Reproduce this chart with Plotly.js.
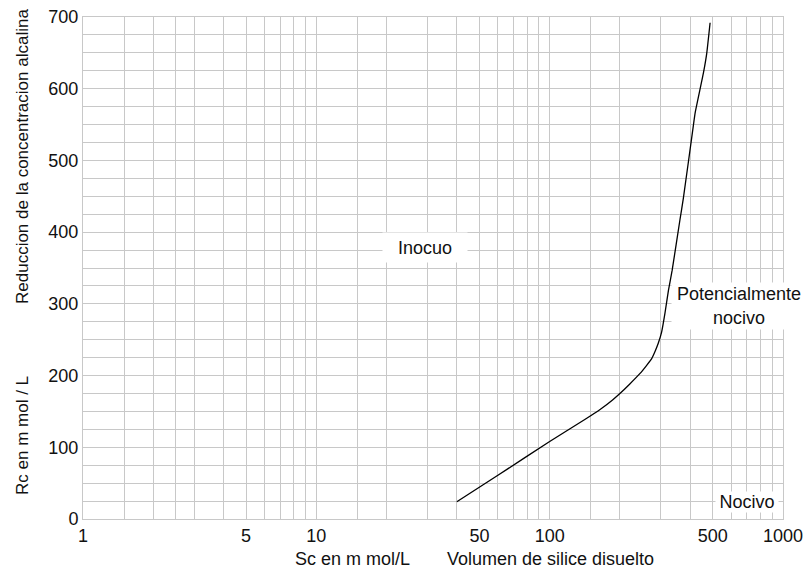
<!DOCTYPE html>
<html>
<head>
<meta charset="utf-8">
<script src="https://cdn.plot.ly/plotly-3.0.1.min.js"></script>
<style>html,body{margin:0;padding:0;background:#fff;}#chart{width:806px;height:571px;}</style>
</head>
<body>
<div id="chart"></div>
<script>
// Curve: Sc (silica dissolved, mmol/L) vs Rc (reduction in alkalinity, mmol/L)
const scValues = [40, 60, 100, 142, 165, 186, 200, 220, 244, 260, 274, 284, 292, 302, 312, 323, 335, 362, 374, 413, 420, 456, 471, 487];
const rcValues = [24, 61, 108, 139, 153, 166, 175, 188, 203, 214, 224, 235, 245, 261, 287, 319, 347, 418, 447, 549, 566, 622, 649, 692];

// Axis ticks and grid
const xTickVals = [1, 5, 10, 50, 100, 500, 1000];
const xTickText = ["1", "5", "10", "50", "100", "500", "1000"];
const xGridVals = [1.5, 2, 2.5, 3, 4, 6, 7, 8, 9, 15, 20, 30, 40, 60, 70, 80, 90, 150, 200, 300, 400, 600, 700, 800, 900];
const yTickVals = [0, 100, 200, 300, 400, 500, 600, 700];

const gridColor = '#c8c8c8';
const font = {family: 'Liberation Sans, Arial, sans-serif', size: 18, color: '#111'};
const yTitleFont = {family: 'Liberation Sans, Arial, sans-serif', size: 17, color: '#111'};

const trace = {
  x: scValues, y: rcValues, type: 'scatter', mode: 'lines',
  line: {color: '#000', width: 1.3, shape: 'spline', smoothing: 0.4}, hoverinfo: 'skip', showlegend: false
};

const layout = {
  width: 806, height: 571,
  margin: {l: 83, r: 23, t: 17, b: 52},
  paper_bgcolor: '#fff', plot_bgcolor: '#fff',
  font: font,
  showlegend: false,
  xaxis: {
    type: 'log', range: [0, 3], tickmode: 'array', tickvals: xTickVals, ticktext: xTickText,
    showgrid: true, gridcolor: gridColor, gridwidth: 1, zeroline: false,
    showline: true, mirror: true, linecolor: gridColor, linewidth: 1,
    ticks: '', ticklabelstandoff: 0, tickfont: font,
    minor: {tickmode: 'array', tickvals: xGridVals, showgrid: true, gridcolor: gridColor, gridwidth: 1, ticks: ''}
  },
  yaxis: {
    range: [0, 700], tickmode: 'array', tickvals: yTickVals,
    showgrid: true, gridcolor: gridColor, gridwidth: 1, zeroline: false,
    showline: true, mirror: true, linecolor: gridColor, linewidth: 1,
    ticks: '', ticklabelstandoff: 0, tickfont: font,
    minor: {dtick: 25, showgrid: true, gridcolor: gridColor, gridwidth: 1, ticks: ''}
  },
  annotations: [
    {x: Math.log10(29.2), y: 379, xref: 'x', yref: 'y', text: 'Inocuo', showarrow: false,
     bgcolor: '#fff', width: 84, height: 29, borderpad: 0, font: font},
    {x: Math.log10(645), y: 297, xref: 'x', yref: 'y', text: 'Potencialmente<br>nocivo', showarrow: false,
     bgcolor: '#fff', width: 134, height: 46, borderpad: 0, font: font},
    {x: Math.log10(702), y: 24, xref: 'x', yref: 'y', text: 'Nocivo', showarrow: false,
     bgcolor: '#fff', width: 62, height: 20, borderpad: 0, font: font},
    {x: 352.5, y: 559, xref: 'paper', yref: 'paper', text: 'Sc en m mol/L', showarrow: false, font: font},
    {x: 550, y: 559, xref: 'paper', yref: 'paper', text: 'Volumen de silice disuelto', showarrow: false, font: font},
    {x: 22, y: 436, xref: 'paper', yref: 'paper', text: 'Rc en m mol / L', textangle: -90, showarrow: false, font: yTitleFont},
    {x: 22, y: 157, xref: 'paper', yref: 'paper', text: 'Reduccion de la concentracion alcalina', textangle: -90, showarrow: false, font: yTitleFont}
  ]
};

// Convert pixel-positioned title annotations to paper coordinates
const plotW = 806 - 83 - 23, plotH = 571 - 17 - 52;
layout.annotations.forEach(a => {
  if (a.xref === 'paper') {
    a.x = (a.x - 83) / plotW;
    a.y = (571 - 52 - a.y) / plotH;
    a.xanchor = 'center'; a.yanchor = 'middle';
  }
});

Plotly.newPlot('chart', [trace], layout, {displayModeBar: false, staticPlot: true});
</script>
</body>
</html>
